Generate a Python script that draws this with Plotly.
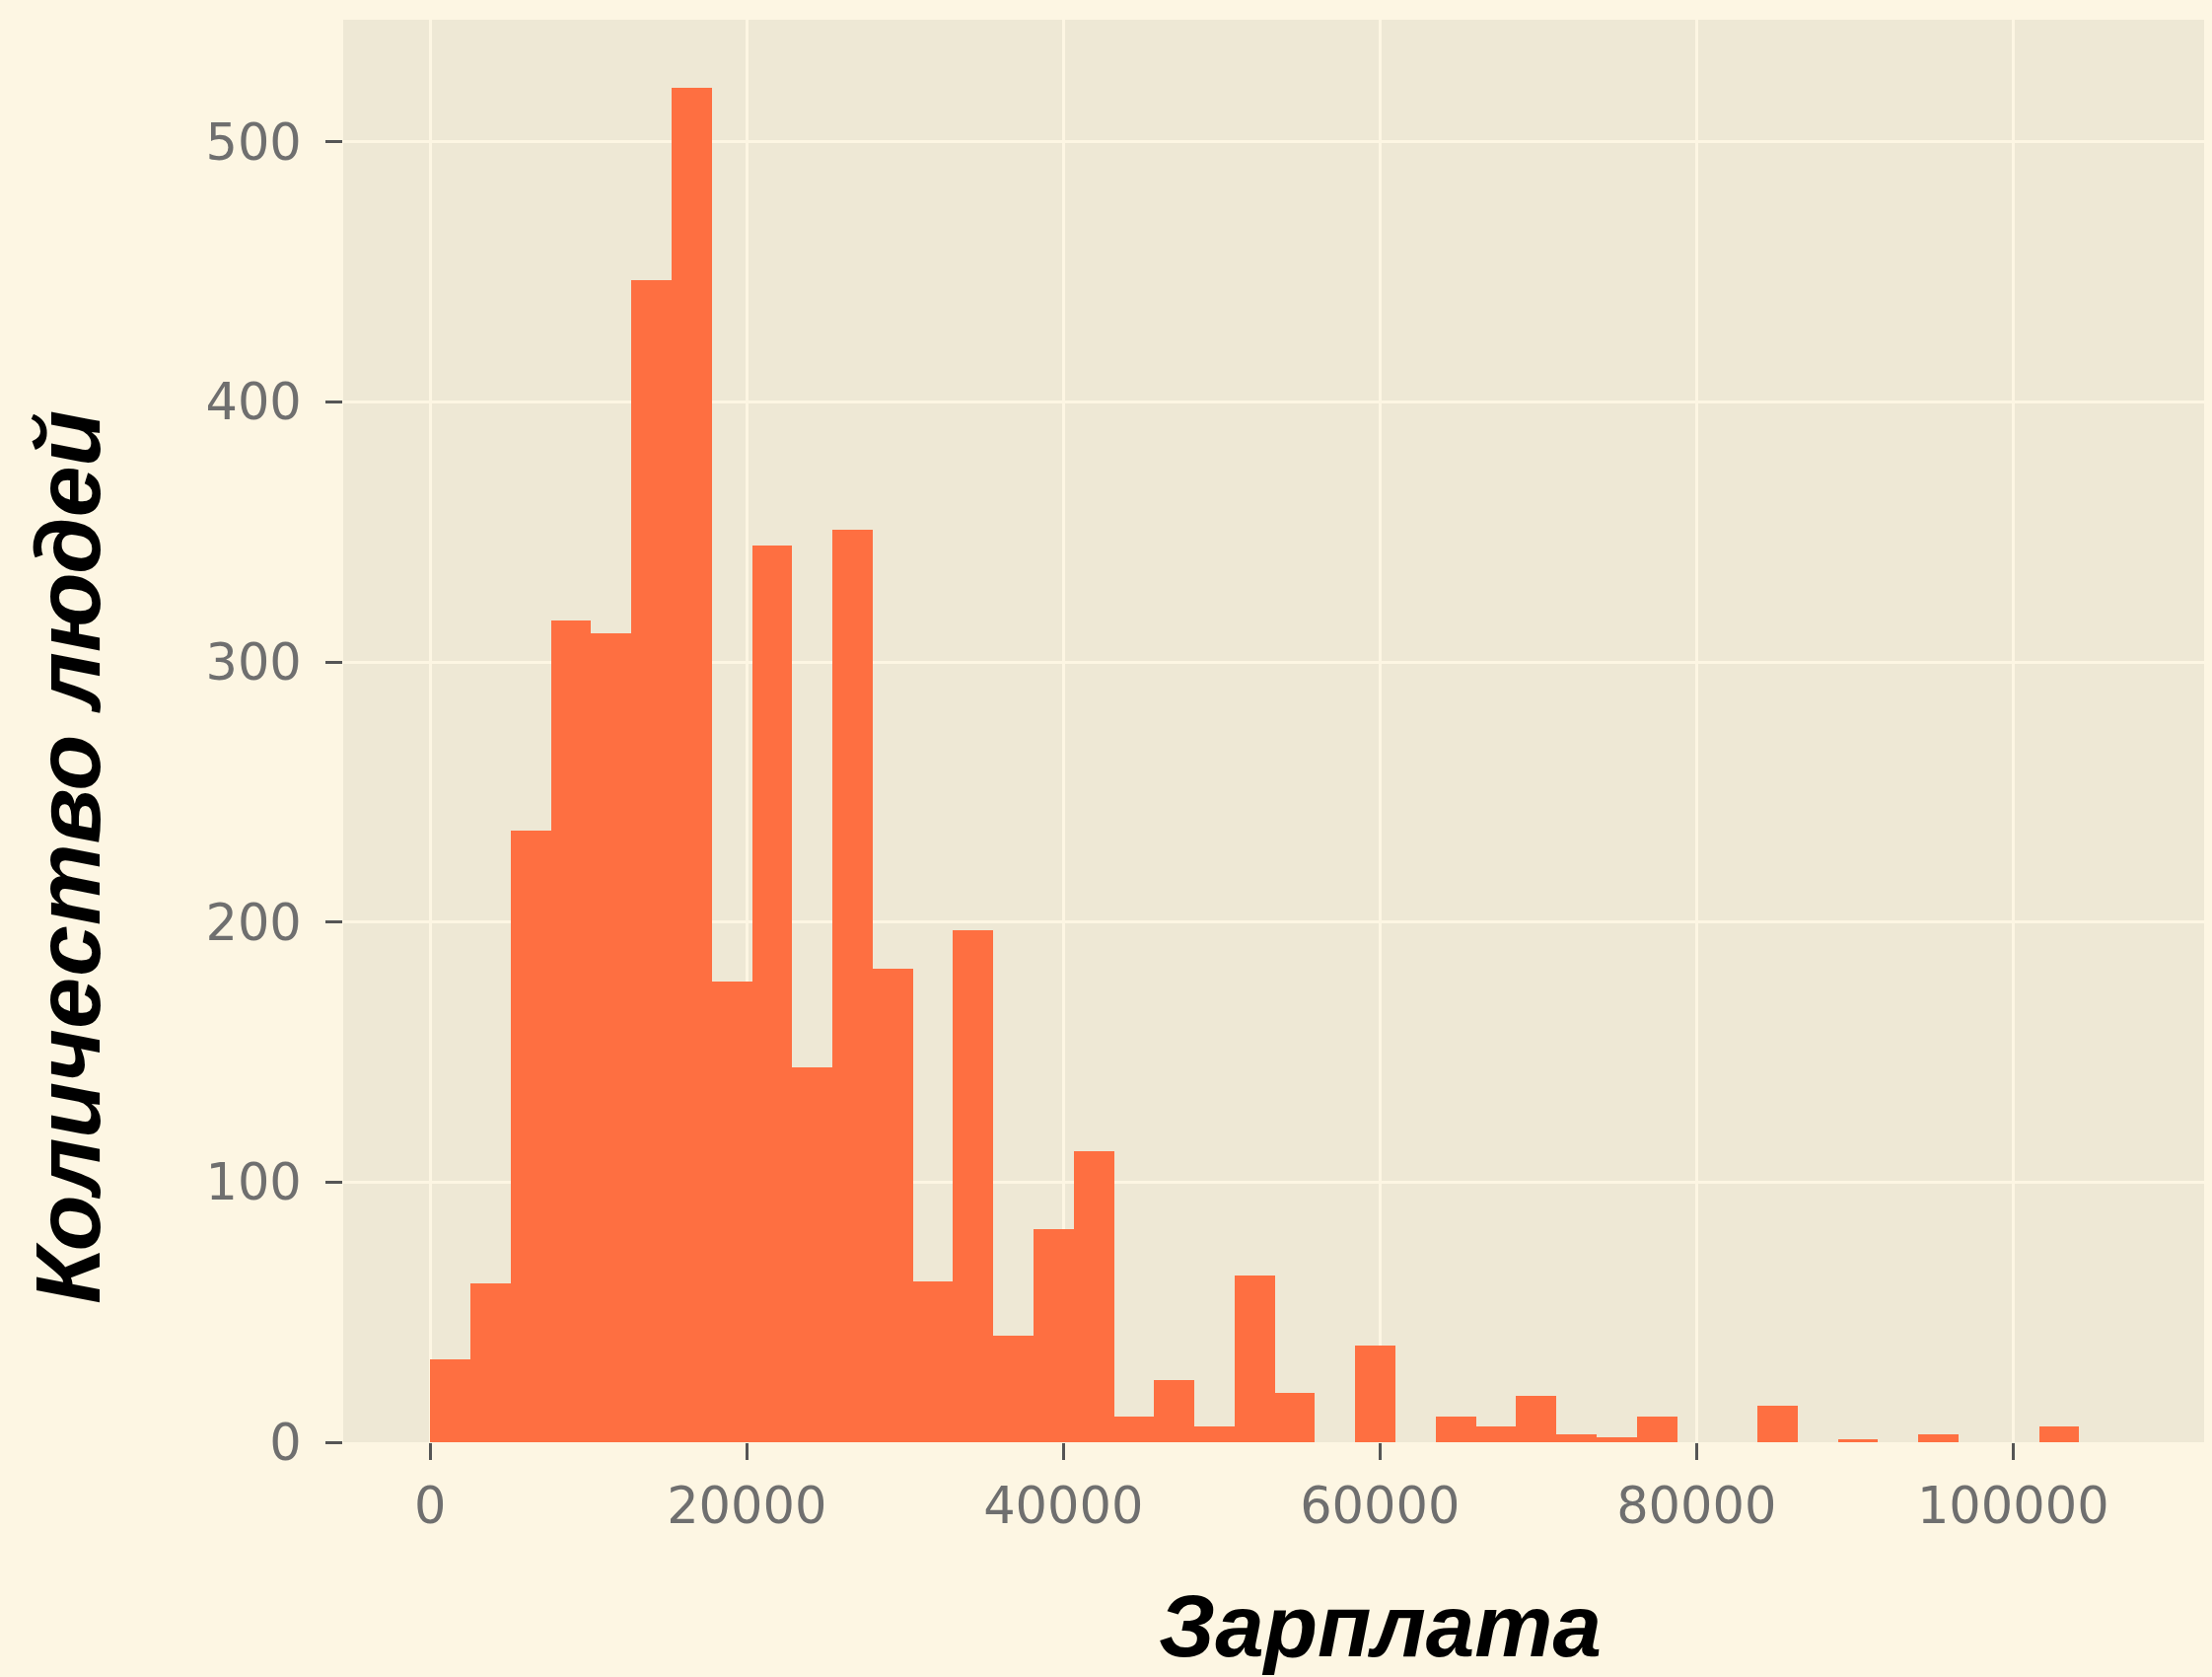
import plotly.graph_objects as go

# ---- data ----
bin_start = 0
bin_width = 2541
counts = [32, 61, 235, 316, 311, 447, 521, 177, 345, 144, 351, 182, 62, 197, 41,
          82, 112, 10, 24, 6, 64, 19, 0, 37, 0, 10, 6, 18, 3, 2, 10, 0, 0, 14, 0,
          1, 0, 3, 0, 0, 6]
x_ticks = [0, 20000, 40000, 60000, 80000, 100000]
y_ticks = [0, 100, 200, 300, 400, 500]
x_label = "Зарплата"
y_label = "Количество людей"

centers = [bin_start + bin_width * (i + 0.5) for i in range(len(counts))]

# the page body has an 8px margin, so the figure is shifted accordingly
OFF = 8
W, H = 2243 - OFF, 1700 - OFF
L, R, T, B = 348 - OFF, 0, 20 - OFF, 238

fig = go.Figure(go.Bar(
    x=centers, y=counts, width=[bin_width] * len(counts),
    marker=dict(color="#FE6F41", line=dict(width=0)),
))

axis_common = dict(
    showgrid=True, gridcolor="#FDF6E3", gridwidth=3,
    zeroline=False, showline=False,
    ticks="outside", ticklen=17, tickwidth=3, tickcolor="#555555",
    tickfont=dict(family="DejaVu Sans", size=51, color="#6f6f6f"),
)

fig.update_layout(
    width=W, height=H,
    margin=dict(l=L, r=R, t=T, b=B, pad=0),
    paper_bgcolor="#FDF6E3",
    plot_bgcolor="#EEE8D5",
    showlegend=False,
    bargap=0,
    xaxis=dict(range=[-5500, 112570], tickvals=x_ticks,
               ticktext=[str(v) for v in x_ticks], ticklabelstandoff=3,
               **axis_common),
    yaxis=dict(range=[0, 547], tickvals=y_ticks,
               ticktext=[str(v) for v in y_ticks], ticklabelstandoff=14,
               **axis_common),
)

title_font_x = dict(family="Liberation Sans", size=89, color="#000000",
                    weight="bold", style="italic")
title_font_y = dict(family="Liberation Sans", size=93, color="#000000",
                    weight="bold", style="italic")
pw = W - L - R
ph = H - T - B
fig.add_annotation(text=x_label, xref="paper", yref="paper",
                   x=(1399 - OFF - L) / pw, y=-(1648 - OFF - (H - B)) / ph,
                   xanchor="center", yanchor="middle", showarrow=False,
                   font=title_font_x)
fig.add_annotation(text=y_label, xref="paper", yref="paper",
                   x=(69 - OFF - L) / pw, y=((H - B) - (869 - OFF)) / ph,
                   xanchor="center", yanchor="middle", showarrow=False,
                   textangle=-90, font=title_font_y)

fig.write_html("out.html",
               post_script="document.body.style.background='#FDF6E3';")
